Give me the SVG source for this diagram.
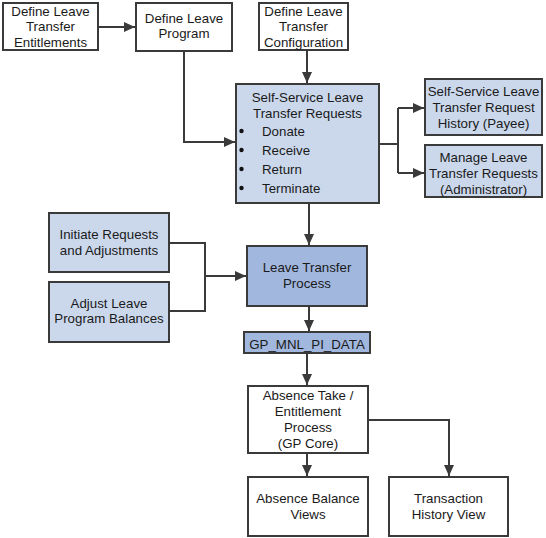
<svg xmlns="http://www.w3.org/2000/svg" width="546" height="538" viewBox="0 0 546 538">
<style>
.b{stroke:#3a3a3a;stroke-width:2}
.w{fill:#ffffff}
.l{fill:#cbd8ec}
.d{fill:#a1b7de}
text{font-family:"Liberation Sans",Arial,sans-serif;font-size:13.3px;fill:#1a1a1a;text-anchor:middle}
.c path{fill:none;stroke:#3a3a3a;stroke-width:2}
</style>
<defs>
<marker id="a" markerUnits="userSpaceOnUse" markerWidth="12" markerHeight="10" refX="11" refY="5" orient="auto">
<path d="M0,0 L11,5 L0,10 Z" fill="#3a3a3a"/>
</marker>
</defs>
<rect width="546" height="538" fill="#fff"/>
<g class="c">
<path d="M98,27 H135" marker-end="url(#a)"/>
<path d="M184,51 V142 H235" marker-end="url(#a)"/>
<path d="M307,50 V83" marker-end="url(#a)"/>
<path d="M379,144 H398"/>
<path d="M398,108 V173"/>
<path d="M398,108 H424" marker-end="url(#a)"/>
<path d="M398,173 H424" marker-end="url(#a)"/>
<path d="M309,203 V245" marker-end="url(#a)"/>
<path d="M169,243 H205 V311 H169"/>
<path d="M205,276 H246" marker-end="url(#a)"/>
<path d="M309,306 V331" marker-end="url(#a)"/>
<path d="M307,353 V385" marker-end="url(#a)"/>
<path d="M307,453 V476" marker-end="url(#a)"/>
<path d="M368,420 H449 V476" marker-end="url(#a)"/>
</g>
<g id="n1"><rect class="b w" x="3" y="3" width="95" height="47"/>
<text x="50.5" y="15.5">Define Leave</text><text x="50.5" y="30.5">Transfer</text><text x="50.5" y="46.5">Entitlements</text></g>
<g id="n2"><rect class="b w" x="136" y="3" width="96" height="48"/>
<text x="184" y="22.5">Define Leave</text><text x="184" y="37.5">Program</text></g>
<g id="n3"><rect class="b w" x="259" y="3" width="89" height="47"/>
<text x="303.5" y="15.5">Define Leave</text><text x="303.5" y="30.5">Transfer</text><text x="303.5" y="46.5">Configuration</text></g>
<g id="n4"><rect class="b l" x="236" y="84" width="143" height="119"/>
<text x="307.5" y="101.5">Self-Service Leave</text><text x="307.5" y="117.5">Transfer Requests</text>
<circle cx="241.5" cy="131" r="2.2" fill="#111"/><text x="262" y="135.5" style="text-anchor:start">Donate</text>
<circle cx="241.5" cy="150" r="2.2" fill="#111"/><text x="262" y="154.5" style="text-anchor:start">Receive</text>
<circle cx="241.5" cy="169" r="2.2" fill="#111"/><text x="262" y="173.5" style="text-anchor:start">Return</text>
<circle cx="241.5" cy="188" r="2.2" fill="#111"/><text x="262" y="192.5" style="text-anchor:start">Terminate</text>
</g>
<g id="n5"><rect class="b l" x="425" y="79" width="117" height="56"/>
<text x="483.5" y="95.5">Self-Service Leave</text><text x="483.5" y="111.5">Transfer Request</text><text x="483.5" y="127.5">History (Payee)</text></g>
<g id="n6"><rect class="b l" x="425" y="145" width="117" height="52"/>
<text x="483.5" y="161.5">Manage Leave</text><text x="483.5" y="177.5">Transfer Requests</text><text x="483.5" y="193.5">(Administrator)</text></g>
<g id="n7"><rect class="b l" x="49" y="213" width="120" height="59"/>
<text x="109" y="238.5">Initiate Requests</text><text x="109" y="254.5">and Adjustments</text></g>
<g id="n8"><rect class="b l" x="49" y="282" width="120" height="60"/>
<text x="109" y="307.5">Adjust Leave</text><text x="109" y="322.5">Program Balances</text></g>
<g id="n9"><rect class="b d" x="247" y="246" width="120" height="60"/>
<text x="307" y="271.5">Leave Transfer</text><text x="307" y="287.5">Process</text></g>
<g id="n10"><rect class="b d" x="244" y="332" width="126" height="21"/>
<text x="307" y="348.5">GP_MNL_PI_DATA</text></g>
<g id="n11"><rect class="b w" x="248" y="386" width="120" height="67"/>
<text x="308" y="399.5">Absence Take /</text><text x="308" y="415.5">Entitlement</text><text x="308" y="431.5">Process</text><text x="308" y="447.5">(GP Core)</text></g>
<g id="n12"><rect class="b w" x="248" y="477" width="120" height="59"/>
<text x="308" y="502.5">Absence Balance</text><text x="308" y="518.5">Views</text></g>
<g id="n13"><rect class="b w" x="389" y="477" width="119" height="59"/>
<text x="448.5" y="502.5">Transaction</text><text x="448.5" y="518.5">History View</text></g>
</svg>
